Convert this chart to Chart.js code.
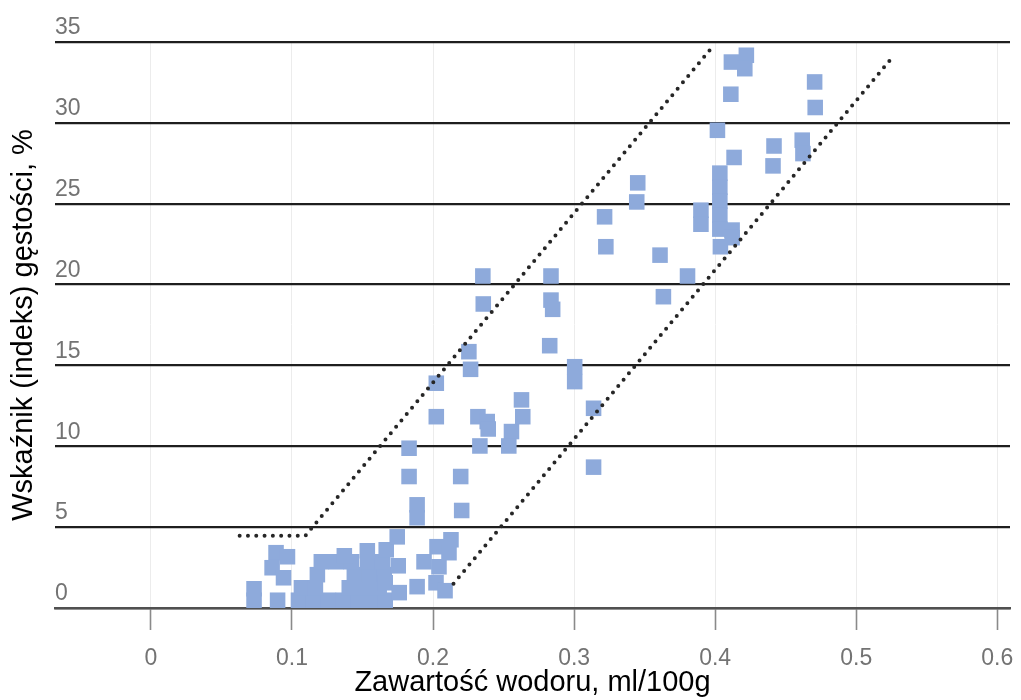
<!DOCTYPE html>
<html lang="pl">
<head>
<meta charset="utf-8">
<title>Wskaźnik gęstości a zawartość wodoru</title>
<script src="https://cdn.jsdelivr.net/npm/chart.js@4/dist/chart.umd.min.js"></script>
<style>
  html, body { margin: 0; padding: 0; background: #ffffff; }
  #wrap { width: 1021px; height: 700px; position: relative; }
</style>
</head>
<body>
<div id="wrap"><canvas id="chart"></canvas></div>
<script>
// Measured samples: hydrogen content (ml/100g) and density index (%)
const hydrogen = [
  0.0731, 0.0731, 0.0898, 0.0887, 0.0968, 0.0859, 0.0940,
  0.1046, 0.1152, 0.1258, 0.1364, 0.1470, 0.1576, 0.1661,
  0.1067, 0.1166, 0.1406, 0.1512, 0.1618,
  0.1180, 0.1442, 0.1548, 0.1654,
  0.1208, 0.1314, 0.1420, 0.1534, 0.1640,
  0.1371, 0.1534, 0.1668, 0.1746, 0.1753, 0.1661, 0.1760,
  0.2127, 0.2028, 0.2113, 0.1936, 0.2042, 0.1887, 0.2021, 0.2085,
  0.1887, 0.1887, 0.2203, 0.1830, 0.1830, 0.2196,
  0.2023, 0.2023, 0.2318, 0.2384, 0.2391, 0.2556, 0.2537, 0.2332,
  0.2627, 0.2636, 0.2254, 0.2266, 0.3004, 0.3004, 0.3138, 0.3138,
  0.2353, 0.2356, 0.2836, 0.2836, 0.2848, 0.2827,
  0.3451, 0.3444, 0.3216, 0.3225, 0.3609, 0.3804, 0.3633,
  0.3899, 0.3899, 0.4033, 0.4033, 0.4033, 0.4033, 0.4033,
  0.4037, 0.4120, 0.4120, 0.4134, 0.4016,
  0.4115, 0.4221, 0.4210, 0.4111, 0.4705, 0.4709,
  0.4417, 0.4410, 0.4617, 0.4622
];
const densityIndex = [
  1.19, 0.48, 0.48, 3.42, 3.17, 2.49, 1.87,
  0.48, 0.48, 0.48, 0.48, 0.48, 0.48, 0.48,
  1.25, 1.25, 1.25, 1.25, 1.25,
  2.06, 2.06, 2.06, 2.06,
  2.86, 2.86, 2.86, 2.86, 2.86,
  3.23, 3.54, 3.60, 4.40, 2.61, 1.56, 0.95,
  4.22, 3.79, 3.42, 2.86, 2.55, 1.32, 1.56, 1.07,
  6.38, 5.58, 6.03, 9.88, 8.13, 8.13,
  13.90, 11.83, 11.83, 11.53, 11.07, 10.91, 10.02, 10.02,
  12.87, 11.83, 15.85, 14.76, 14.92, 14.00, 12.35, 8.71,
  20.53, 18.80, 20.53, 19.04, 18.47, 16.22,
  26.29, 25.11, 24.19, 22.34, 21.82, 20.53, 19.25,
  24.60, 23.73, 26.89, 26.02, 25.16, 24.29, 23.43,
  22.34, 23.37, 22.90, 27.86, 29.54,
  33.76, 34.18, 33.35, 31.77, 32.53, 30.95,
  28.57, 27.34, 28.93, 28.10
];

// Dotted boundary lines of the scatter band
const upperBoundX = [0.0629, 0.1095, 0.3962];
const upperBoundY = [4.47, 4.47, 34.5];
const lowerBoundX = [0.2145, 0.5258];
const lowerBoundY = [1.5, 34.07];

// Axis ticks and labels
const xTicks = [0, 0.1, 0.2, 0.3, 0.4, 0.5, 0.6];
const xTickLabels = ['0', '0.1', '0.2', '0.3', '0.4', '0.5', '0.6'];
const yTicks = [0, 5, 10, 15, 20, 25, 30, 35];
const yTickLabels = ['0', '5', '10', '15', '20', '25', '30', '35'];

const xTitle = 'Zawartość wodoru, ml/100g';
const yTitle = 'Wskaźnik (indeks) gęstości, %';

const FONT = '"Liberation Sans", Arial, Helvetica, sans-serif';
const pairs = (xs, ys) => xs.map((x, i) => ({ x, y: ys[i] }));

const dotted = {
  type: 'line',
  borderColor: '#262626',
  borderWidth: 4,
  borderDash: [0, 8.3],
  borderCapStyle: 'round',
  pointRadius: 0,
  fill: false,
  tension: 0,
  order: 0
};

new Chart(document.getElementById('chart'), {
  type: 'scatter',
  data: {
    datasets: [
      Object.assign({ data: pairs(upperBoundX, upperBoundY) }, dotted),
      Object.assign({ data: pairs(lowerBoundX, lowerBoundY) }, dotted),
      {
        data: pairs(hydrogen, densityIndex),
        pointStyle: 'rect',
        pointRadius: 11,
        pointHoverRadius: 11,
        pointBorderWidth: 0,
        backgroundColor: 'rgb(142,170,219)',
        borderColor: 'rgb(142,170,219)',
        order: 1
      }
    ]
  },
  options: {
    responsive: true,
    maintainAspectRatio: false,
    animation: false,
    events: [],
    layout: { padding: { left: 0, top: 42, right: 8, bottom: 0 } },
    plugins: {
      legend: { display: false },
      tooltip: { enabled: false }
    },
    scales: {
      x: {
        type: 'linear',
        position: 'bottom',
        min: -0.068,
        max: 0.609,
        afterBuildTicks: (scale) => { scale.ticks = xTicks.map(v => ({ value: v })); },
        afterFit: (scale) => { scale.height = 92; scale.paddingLeft = 0; scale.paddingRight = 0; },
        ticks: {
          callback: (value, index) => xTickLabels[index],
          color: '#737373',
          padding: 15,
          maxRotation: 0,
          autoSkip: false,
          font: { family: FONT, size: 23 }
        },
        grid: {
          color: '#ececec',
          lineWidth: 1,
          tickColor: '#8a8a8a',
          tickLength: 22,
          tickWidth: 1.6
        },
        border: { display: true, color: '#505050', width: 2.5 },
        title: {
          display: true,
          text: xTitle,
          color: '#000000',
          font: { family: FONT, size: 29 },
          padding: { top: 0, bottom: 0 }
        }
      },
      y: {
        type: 'linear',
        position: 'left',
        min: 0,
        max: 35,
        afterBuildTicks: (scale) => { scale.ticks = yTicks.map(v => ({ value: v })); },
        afterFit: (scale) => { scale.width = 55; scale.paddingTop = 0; scale.paddingBottom = 0; },
        ticks: {
          callback: (value, index) => yTickLabels[index],
          mirror: true,
          padding: 0,
          labelOffset: -14,
          color: '#737373',
          font: { family: FONT, size: 23 }
        },
        grid: {
          color: (ctx) => (ctx.tick && ctx.tick.value === 0 ? '#505050' : '#1e1e1e'),
          lineWidth: 2.2,
          drawTicks: false
        },
        border: { display: false },
        title: {
          display: true,
          text: yTitle,
          color: '#000000',
          font: { family: FONT, size: 29 },
          padding: { top: 6.5, bottom: 0 }
        }
      }
    }
  }
});
</script>
</body>
</html>
